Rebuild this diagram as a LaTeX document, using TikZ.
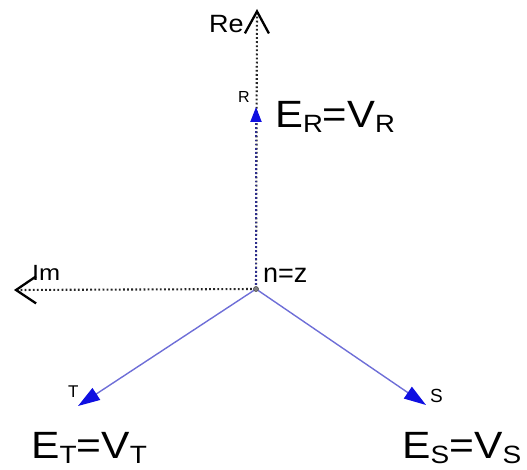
\documentclass[tikz,border=0pt]{standalone}
\usepackage{fontspec}
\setmainfont{Liberation Sans}
\usetikzlibrary{arrows.meta}
\definecolor{vecline}{RGB}{110,110,215}
\definecolor{vechead}{RGB}{15,15,225}
\definecolor{rvec}{RGB}{45,45,140}
\newcommand\subtxt[1]{\raisebox{-5pt}{\fontsize{25}{25}\selectfont #1}}
\begin{document}
\begin{tikzpicture}[x=1pt,y=-1pt,
  axis/.style={line width=2.1pt, dash pattern=on 1.8pt off 2.3pt, black!85},
  vec/.style={vecline, line width=1.4pt, -{Triangle[length=22pt,width=14pt,color=vechead]}},
  rvecst/.style={rvec, line width=2.1pt, dash pattern=on 1.8pt off 2.3pt, -{Triangle[length=15pt,width=11pt,color=vechead]}},
  big/.style={font=\fontsize{38}{38}\selectfont, inner sep=0, anchor=base west},
  lbl/.style={inner sep=0, anchor=base west}]
\useasboundingbox (0,0) rectangle (527,470);
\coordinate (o) at (256,289);
\coordinate (re) at (257,9);
\coordinate (im) at (14,290);
\coordinate (rt) at (256,107);
\coordinate (tt) at (78,406);
\coordinate (st) at (426,405);
\draw[axis, -{Straight Barb[length=22pt,width=24pt,line width=2.3pt,color=black]}] (o) -- (re);
\draw[axis, -{Straight Barb[length=20pt,width=27pt,line width=2.3pt,color=black]}] (o) -- (im);
\draw[rvecst] (o) -- (rt);
\draw[vec] (o) -- (tt);
\draw[vec] (o) -- (st);
\node[circle, fill=gray, draw=black!70, line width=0.6pt, minimum size=5pt, inner sep=0] (odot) at (o) {};
% labels
\node[lbl, font=\fontsize{25}{25}\selectfont] (relbl) at (209,33) {\scalebox{1.08}[1]{Re}};
\node[lbl, font=\fontsize{22}{22}\selectfont] (imlbl) at (32,280) {\scalebox{1.15}[1]{Im}};
\node[lbl, font=\fontsize{27}{27}\selectfont] (nz) at (263,282) {n=z};
\node[lbl, font=\fontsize{16}{16}\selectfont] (rl) at (238,103) {R};
\node[lbl, font=\fontsize{17}{17}\selectfont] (tl) at (68,397) {T};
\node[lbl, font=\fontsize{19}{19}\selectfont] (sl) at (430,402) {S};
\node[big] (er) at (275,128) {\scalebox{1.1}[1]{E\subtxt{R}=V\subtxt{R}}};
\node[big] (et) at (31,458) {\scalebox{1.12}[1]{E\subtxt{T}=V\subtxt{T}}};
\node[big] (es) at (402,458) {\scalebox{1.12}[1]{E\subtxt{S}=V\subtxt{S}}};
\end{tikzpicture}
\end{document}
